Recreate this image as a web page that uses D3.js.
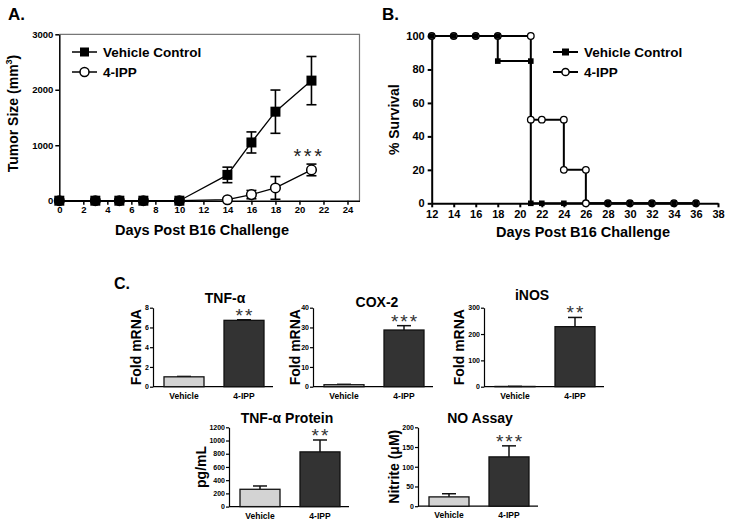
<!DOCTYPE html>
<html>
<head>
<meta charset="utf-8">
<script src="https://cdn.jsdelivr.net/npm/d3@7"></script>
<style>
body { margin: 0; background: #fff; }
svg { font-family: "Liberation Sans", Arial, sans-serif; font-weight: bold; }
</style>
</head>
<body>
<div id="fig"></div>
<script>
const width = 729;
const height = 524;

// A. tumor growth
const growthDays = [0, 3, 5, 7, 10, 14, 16, 18, 21];
const vehicleSize = [0, 0, 0, 0, 0, 465, 1050, 1605, 2165];
const vehicleErr = [0, 0, 0, 0, 0, 140, 190, 390, 435];
const ippSize = [0, 0, 0, 0, 0, 18, 110, 230, 555];
const ippErr = [0, 0, 0, 0, 0, 0, 75, 205, 105];
const growthXTicks = d3.range(0, 25, 2);
const growthYTicks = [0, 1000, 2000, 3000];

// B. survival
const survVehicleT = [12, 18, 21, 36];
const survVehicleP = [100, 85, 0, 0];
const survIppT = [12, 21, 24, 26, 36];
const survIppP = [100, 50, 20, 0, 0];
const markVehicleT = [12, 14, 16, 18, 18, 21, 21, 22, 24, 28, 30, 32, 34, 36];
const markVehicleP = [100, 100, 100, 100, 85, 85, 0, 0, 0, 0, 0, 0, 0, 0];
const markIppT = [12, 14, 16, 18, 21, 21, 22, 24, 24, 26, 26, 28, 30, 32, 34, 36];
const markIppP = [100, 100, 100, 100, 100, 50, 50, 50, 20, 20, 0, 0, 0, 0, 0, 0];
const survXTicks = d3.range(12, 39, 2);
const survYTicks = [0, 20, 40, 60, 80, 100];

// C. bar panels
const groups = ['Vehicle', '4-IPP'];
const tnfMrna = [1.0, 6.72];
const tnfMrnaErr = [0.04, 0.06];
const coxMrna = [1.0, 28.7];
const coxMrnaErr = [0.2, 2.2];
const inosMrna = [1.0, 228];
const inosMrnaErr = [0.3, 35];
const tnfProtein = [262, 828];
const tnfProteinErr = [50, 180];
const nitrite = [23.6, 125];
const nitriteErr = [8, 28];

const svg = d3.select('#fig').append('svg')
    .attr('width', width)
    .attr('height', height)
    .attr('viewBox', `0 0 ${width} ${height}`);

const fmt = d3.format('d');

function styleAxis(g, fs, sw) {
    g.selectAll('.domain').attr('stroke', '#000').attr('stroke-width', sw);
    g.selectAll('.tick line').attr('stroke', '#000').attr('stroke-width', sw);
    g.selectAll('.tick text').attr('font-size', fs).attr('font-weight', 'bold')
        .attr('font-family', '"Liberation Sans", Arial, sans-serif').attr('fill', '#000');
}

function panelLetter(t, x, y, fs) {
    svg.append('text').attr('x', x).attr('y', y).attr('font-size', fs).text(t);
}

// ---------- A ----------
panelLetter('A.', 8, 20, 17);
const xA = d3.scaleLinear().domain([0, 25]).range([59.3, 359.5]);
const yA = d3.scaleLinear().domain([0, 3000]).range([200.7, 34.3]);

// frame (top/right light)
svg.append('path')
    .attr('d', `M${xA(0)},${yA(3000)}H${xA(25)}V${yA(0)}`)
    .attr('fill', 'none').attr('stroke', '#777').attr('stroke-width', 1.2);

svg.append('g').attr('transform', `translate(0,${yA(0)})`)
    .call(d3.axisBottom(xA).tickValues(growthXTicks).tickFormat(fmt).tickSize(4).tickPadding(2).tickSizeOuter(0))
    .call(g => styleAxis(g, 9.5, 1.5));
svg.append('g').attr('transform', `translate(${xA(0)},0)`)
    .call(d3.axisLeft(yA).tickValues(growthYTicks).tickFormat(fmt).tickSize(4).tickPadding(2).tickSizeOuter(0))
    .call(g => styleAxis(g, 9.5, 1.5));

const lineA = d3.line().x(d => xA(d.x)).y(d => yA(d.y));
const ippA = growthDays.map((d, i) => ({x: d, y: ippSize[i], e: ippErr[i]}));
const vehA = growthDays.map((d, i) => ({x: d, y: vehicleSize[i], e: vehicleErr[i]}));

function errBars(data, xs, ys, cap, sw) {
    const g = svg.append('g').attr('stroke', '#000').attr('stroke-width', sw);
    data.filter(d => d.e > 0).forEach(d => {
        const cx = xs(d.x);
        const lo = ys(Math.max(0, d.y - d.e));
        const hi = ys(d.y + d.e);
        g.append('line').attr('x1', cx).attr('x2', cx).attr('y1', lo).attr('y2', hi);
        g.append('line').attr('x1', cx - cap).attr('x2', cx + cap).attr('y1', hi).attr('y2', hi);
        g.append('line').attr('x1', cx - cap).attr('x2', cx + cap).attr('y1', lo).attr('y2', lo);
    });
}

svg.append('path').datum(ippA).attr('d', lineA).attr('fill', 'none').attr('stroke', '#000').attr('stroke-width', 1.3);
errBars(ippA, xA, yA, 5, 1.6);
svg.append('g').selectAll('circle').data(ippA).join('circle')
    .attr('cx', d => xA(d.x)).attr('cy', d => yA(d.y)).attr('r', 4.8)
    .attr('fill', '#fff').attr('stroke', '#000').attr('stroke-width', 1.5);

svg.append('path').datum(vehA).attr('d', lineA).attr('fill', 'none').attr('stroke', '#000').attr('stroke-width', 1.3);
errBars(vehA, xA, yA, 5, 1.6);
svg.append('g').selectAll('rect').data(vehA).join('rect')
    .attr('x', d => xA(d.x) - 5).attr('y', d => yA(d.y) - 5).attr('width', 10).attr('height', 10)
    .attr('fill', '#000');

svg.append('text').attr('x', 309).attr('y', 163).attr('text-anchor', 'middle')
    .attr('font-size', 20).attr('font-weight', 'normal').attr('letter-spacing', 2.5).attr('fill', '#222').text('***');

// legend
function legend(x, y, type, label, sq, r, sw) {
    svg.append('line').attr('x1', x).attr('x2', x + 25).attr('y1', y).attr('y2', y)
        .attr('stroke', '#000').attr('stroke-width', sw);
    if (type === 'square') {
        svg.append('rect').attr('x', x + 12.5 - sq / 2).attr('y', y - sq / 2).attr('width', sq).attr('height', sq);
    } else {
        svg.append('circle').attr('cx', x + 12.5).attr('cy', y).attr('r', r)
            .attr('fill', '#fff').attr('stroke', '#000').attr('stroke-width', 1.5);
    }
    svg.append('text').attr('x', x + 31).attr('y', y + 5).attr('font-size', 13.5).text(label);
}
legend(72, 52, 'square', 'Vehicle Control', 9, 4.5, 1.5);
legend(72, 72, 'circle', '4-IPP', 9, 4.5, 1.5);

svg.append('text').attr('transform', `translate(18,${(yA(0) + yA(3000)) / 2 - 4}) rotate(-90)`)
    .attr('text-anchor', 'middle').attr('font-size', 14)
    .call(t => {
        t.append('tspan').text('Tumor Size (mm');
        t.append('tspan').attr('font-size', 9).attr('dy', -6).text('3');
        t.append('tspan').attr('dy', 6).text(')');
    });
svg.append('text').attr('x', 202).attr('y', 235).attr('text-anchor', 'middle').attr('font-size', 14.5)
    .text('Days Post B16 Challenge');

// ---------- B ----------
panelLetter('B.', 382, 20, 17);
const xB = d3.scaleLinear().domain([12, 38]).range([431.7, 718]);
const yB = d3.scaleLinear().domain([0, 100]).range([203.3, 36]);

svg.append('g').attr('transform', `translate(0,${yB(0)})`)
    .call(d3.axisBottom(xB).tickValues(survXTicks).tickFormat(fmt).tickSize(4).tickPadding(3).tickSizeOuter(0))
    .call(g => styleAxis(g, 11, 2));
svg.append('g').attr('transform', `translate(${xB(12)},0)`)
    .call(d3.axisLeft(yB).tickValues(survYTicks).tickFormat(fmt).tickSize(4).tickPadding(3).tickSizeOuter(0))
    .call(g => styleAxis(g, 11, 2));

const lineB = d3.line().x(d => xB(d.x)).y(d => yB(d.y)).curve(d3.curveStepAfter);
svg.append('path').datum(survIppT.map((d, i) => ({x: d, y: survIppP[i]})))
    .attr('d', lineB).attr('fill', 'none').attr('stroke', '#000').attr('stroke-width', 2);
svg.append('path').datum(survVehicleT.map((d, i) => ({x: d, y: survVehicleP[i]})))
    .attr('d', lineB).attr('fill', 'none').attr('stroke', '#000').attr('stroke-width', 2);

svg.append('g').selectAll('circle').data(markIppT.map((d, i) => ({x: d, y: markIppP[i]}))).join('circle')
    .attr('cx', d => xB(d.x)).attr('cy', d => yB(d.y)).attr('r', 3.3)
    .attr('fill', '#fff').attr('stroke', '#000').attr('stroke-width', 1.3);
svg.append('g').selectAll('rect').data(markVehicleT.map((d, i) => ({x: d, y: markVehicleP[i]}))).join('rect')
    .attr('x', d => xB(d.x) - 2.8).attr('y', d => yB(d.y) - 2.8).attr('width', 5.6).attr('height', 5.6)
    .attr('fill', '#000');

legend(553, 52, 'square', 'Vehicle Control', 7, 3.5, 2);
legend(553, 72, 'circle', '4-IPP', 7, 3.6, 2);

svg.append('text').attr('transform', `translate(399,${(yB(0) + yB(100)) / 2}) rotate(-90)`)
    .attr('text-anchor', 'middle').attr('font-size', 14).text('% Survival');
svg.append('text').attr('x', 583).attr('y', 237).attr('text-anchor', 'middle').attr('font-size', 14.5)
    .text('Days Post B16 Challenge');

// ---------- C ----------
panelLetter('C.', 114, 289, 16);

const barPanels = [
    {vals: tnfMrna, errs: tnfMrnaErr, max: 8, ticks: [0, 2, 4, 6, 8], title: 'TNF-α', ylab: 'Fold mRNA', stars: '**',
        x0: 153, yTop: 307.7, yBot: 386.7, titleX: 225, titleY: 303, labX: 136},
    {vals: coxMrna, errs: coxMrnaErr, max: 40, ticks: [0, 10, 20, 30, 40], title: 'COX-2', ylab: 'Fold mRNA', stars: '***',
        x0: 313, yTop: 307.7, yBot: 386.7, titleX: 377, titleY: 307, labX: 295},
    {vals: inosMrna, errs: inosMrnaErr, max: 300, ticks: [0, 100, 200, 300], title: 'iNOS', ylab: 'Fold mRNA', stars: '**',
        x0: 484, yTop: 307.7, yBot: 386.7, titleX: 532, titleY: 300, labX: 459},
    {vals: tnfProtein, errs: tnfProteinErr, max: 1200, ticks: d3.range(0, 1201, 200), title: 'TNF-α Protein', ylab: 'pg/mL', stars: '**',
        x0: 229, yTop: 427.3, yBot: 506.6, titleX: 287, titleY: 423, labX: 201},
    {vals: nitrite, errs: nitriteErr, max: 200, ticks: [0, 50, 100, 150, 200], title: 'NO Assay', ylab: 'Nitrite (μM)', stars: '***',
        x0: 418, yTop: 427.3, yBot: 506.2, titleX: 480, titleY: 423, labX: 394}
];
const barFill = ['#d3d3d3', '#333333'];

barPanels.forEach(p => {
    const y = d3.scaleLinear().domain([0, p.max]).range([p.yBot, p.yTop]);
    const x = d3.scaleBand().domain(groups).range([p.x0 + 11, p.x0 + 111]).paddingInner(1 / 3);
    const g = svg.append('g');

    g.append('g').attr('transform', `translate(${p.x0},0)`)
        .call(d3.axisLeft(y).tickValues(p.ticks).tickFormat(fmt).tickSize(3).tickPadding(1).tickSizeOuter(0))
        .call(a => styleAxis(a, 7, 1.2));
    g.append('line').attr('x1', p.x0).attr('x2', p.x0 + 120).attr('y1', p.yBot).attr('y2', p.yBot)
        .attr('stroke', '#000').attr('stroke-width', 1.2);

    const data = groups.map((k, i) => ({k, v: p.vals[i], e: p.errs[i], i}));
    // error bars, upper half only
    data.forEach(d => {
        const cx = x(d.k) + x.bandwidth() / 2;
        g.append('line').attr('x1', cx).attr('x2', cx).attr('y1', y(d.v)).attr('y2', y(d.v + d.e))
            .attr('stroke', '#111').attr('stroke-width', 1.5);
        g.append('line').attr('x1', cx - 7).attr('x2', cx + 7).attr('y1', y(d.v + d.e)).attr('y2', y(d.v + d.e))
            .attr('stroke', '#111').attr('stroke-width', 1.5);
    });
    g.selectAll('rect.bar').data(data).join('rect').attr('class', 'bar')
        .attr('x', d => x(d.k)).attr('width', x.bandwidth())
        .attr('y', d => y(d.v)).attr('height', d => y(0) - y(d.v))
        .attr('fill', d => barFill[d.i]).attr('stroke', '#111').attr('stroke-width', 1.3);

    g.selectAll('text.cat').data(groups).join('text').attr('class', 'cat')
        .attr('x', d => x(d) + x.bandwidth() / 2).attr('y', p.yBot + 12)
        .attr('text-anchor', 'middle').attr('font-size', 8.5).text(d => d);

    const top = y(p.vals[1] + p.errs[1]);
    g.append('text').attr('x', x('4-IPP') + x.bandwidth() / 2 + 1).attr('y', top + 2)
        .attr('text-anchor', 'middle').attr('font-size', 19).attr('font-weight', 'normal')
        .attr('letter-spacing', 2).attr('fill', '#333').text(p.stars);

    g.append('text').attr('x', p.titleX).attr('y', p.titleY).attr('text-anchor', 'middle')
        .attr('font-size', 14).text(p.title);
    g.append('text').attr('transform', `translate(${p.labX},${(p.yBot + p.yTop) / 2}) rotate(-90)`)
        .attr('text-anchor', 'middle').attr('dy', '0.35em').attr('font-size', 14).text(p.ylab);
});
</script>
</body>
</html>
